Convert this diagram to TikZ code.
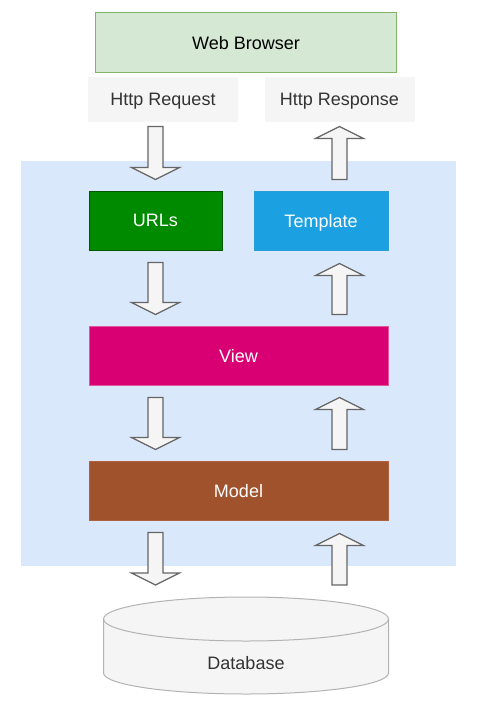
\documentclass[tikz,border=0pt]{standalone}
\usepackage{fontspec}
\setmainfont{Liberation Sans}
\usetikzlibrary{calc,positioning}
\definecolor{browserfill}{HTML}{D5E8D4}
\definecolor{browserline}{HTML}{82B366}
\definecolor{greyfill}{HTML}{F5F5F5}
\definecolor{greytext}{HTML}{333333}
\definecolor{arrowline}{HTML}{666666}
\definecolor{dbline}{HTML}{B3B3B3}
\definecolor{appfill}{HTML}{DAE8FC}
\definecolor{urlsfill}{HTML}{008A00}
\definecolor{urlsline}{HTML}{005700}
\definecolor{templatefill}{HTML}{1BA1E2}
\definecolor{templateline}{HTML}{2A9FD6}
\definecolor{viewfill}{HTML}{D80073}
\definecolor{viewline}{HTML}{E0589A}
\definecolor{modelfill}{HTML}{A0522D}
\definecolor{modelline}{HTML}{B0623D}

% fat up/down arrow between two points
\newcommand{\blockarr}[2]{%
    \coordinate (ah) at ($#2!12pt!#1$);
    \draw[blockarrow] ($#1!7.5pt!90:#2$) -- ($(ah)!7.5pt!-90:#1$) -- ($(ah)!24pt!-90:#1$)
        -- #2 -- ($(ah)!24pt!90:#1$) -- ($(ah)!7.5pt!90:#1$) -- ($#1!7.5pt!-90:#2$) -- cycle;
}

\begin{document}
\begin{tikzpicture}[x=1pt, y=1pt,
    every node/.style={font=\fontsize{18}{21}\selectfont, text depth=0pt},
    box/.style={rectangle, inner sep=0pt, line width=1pt},
    httpbox/.style={box, fill=greyfill, text=greytext, minimum width=150, minimum height=45},
    layer/.style={box, text=white, minimum height=59},
    blockarrow/.style={fill=greyfill, draw=arrowline, line width=1.2pt, line join=miter}]
    \useasboundingbox (0,0) rectangle (479,-709);

    % Browser side
    \node[box, fill=browserfill, draw=browserline, minimum width=301, minimum height=60] (browser) at (246,-42.5) {Web Browser};
    \node[httpbox] (req) at (163,-99.5) {Http Request};
    \node[httpbox] (resp) at (339.5,-99.5) {Http Response};

    % Django application area
    \fill[appfill] (21,-161) rectangle (456,-566);

    \node[layer, fill=urlsfill, draw=urlsline, minimum width=133] (urls) at (155.5,-220.5) {URLs};
    \node[layer, fill=templatefill, draw=templateline, minimum width=134] (template) at (321,-220.5) {Template};
    \node[layer, fill=viewfill, draw=viewline, minimum width=299] (view) at (238.5,-355.5) {View};
    \node[layer, fill=modelfill, draw=modelline, minimum width=299] (model) at (238.5,-490.5) {Model};

    % Database
    \draw[fill=greyfill, draw=dbline, line width=1pt] (103.5,-619) -- (103.5,-673)
        arc[start angle=180, end angle=360, x radius=142.5pt, y radius=21pt] -- (388.5,-619)
        arc[start angle=0, end angle=180, x radius=142.5pt, y radius=22pt] -- cycle;
    \draw[draw=dbline, line width=1pt] (103.5,-619) arc[start angle=180, end angle=360, x radius=142.5pt, y radius=22pt];
    \coordinate (dbtop) at (246,-597);
    \node[text=greytext] (db) at (246,-663) {Database};

    % Arrows
    \blockarr{($(req.south -| urls)+(0,-4)$)}{($(urls.north)+(0,11)$)}
    \blockarr{($(urls.north -| resp)+(0,11)$)}{($(resp.south)+(0,-4)$)}
    \blockarr{($(urls.south)+(0,-12)$)}{($(view.north -| urls)+(0,11)$)}
    \blockarr{($(view.north -| resp)+(0,11)$)}{($(template.south -| resp)+(0,-13)$)}
    \blockarr{($(view.south -| urls)+(0,-12)$)}{($(model.north -| urls)+(0,11)$)}
    \blockarr{($(model.north -| resp)+(0,11)$)}{($(view.south -| resp)+(0,-12)$)}
    \blockarr{($(model.south -| urls)+(0,-12)$)}{($(dbtop -| urls)+(0,12)$)}
    \blockarr{($(dbtop -| resp)+(0,12)$)}{($(model.south -| resp)+(0,-13)$)}
\end{tikzpicture}
\end{document}
